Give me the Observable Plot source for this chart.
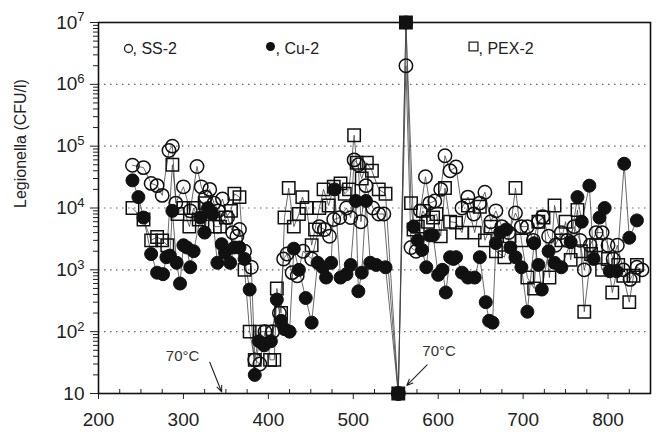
<!DOCTYPE html>
<html>
<head>
<meta charset="utf-8">
<script src="https://cdn.jsdelivr.net/npm/d3@7"></script>
<script src="https://cdn.jsdelivr.net/npm/@observablehq/plot@0.6"></script>
<style>
  html, body { margin: 0; padding: 0; background: white; }
</style>
</head>
<body>
<div id="chart"></div>
<script>
// ---- Data (days and Legionella CFU/l) ----
const ssDay = [240,253,262,269,275,283,287,291,300,308,
  316,321,326,331,336,341,346,352,358,363,
  366,372,380,384,390,396,405,413,418,422,
  428,434,441,451,460,466,472,477,484,492,
  497,501,506,509,515,523,530,536,553,562,
  568,574,579,585,590,596,603,608,614,621,
  628,635,642,649,655,662,668,675,683,691,
  698,705,712,718,723,730,738,745,752,760,
  767,772,779,786,793,800,806,811,818,826,
  834,840];
const ssVal = [49000,45000,25000,23000,16000,85000,100000,12000,22000,9000,
  47000,22000,15000,20000,12000,9000,14000,7000,4000,3500,
  4500,2000,1100,35,30,100,100,200,1500,1800,
  900,800,2000,1500,5000,4500,3500,6500,7000,10000,
  7000,60000,50000,6000,23000,10000,8000,8000,10,2000000,
  2300,2000,9000,32000,12000,13000,20000,70000,40000,46000,
  10000,15000,8000,12000,18000,6000,9000,5000,4000,8300,
  5000,5000,3000,6000,7200,3500,2500,4000,3000,5000,
  3000,1000,2500,4000,4000,2500,1500,2500,1000,700,
  1100,1000];

const cuDay = [240,247,253,262,269,276,280,284,287,292,
  296,300,304,308,312,320,325,329,334,340,
  345,349,355,360,366,372,378,384,389,395,
  403,410,415,419,425,430,436,444,451,458,
  464,468,474,478,485,492,497,503,506,510,
  515,520,527,538,553,562,571,576,581,586,
  590,594,600,605,609,614,618,621,628,635,
  643,649,656,660,664,668,673,680,685,691,
  698,705,713,718,722,730,737,745,756,764,
  769,778,783,790,796,802,810,819,825,834];
const cuVal = [28000,15000,7000,1800,900,850,1600,1700,9000,1300,
  600,2500,2300,1100,2000,7000,4000,10000,8000,1300,
  2600,1900,1300,2300,2300,1500,480,20,70,60,
  70,330,150,110,100,2200,1000,350,140,1300,
  1100,750,1300,20000,750,850,1200,13000,450,900,
  13000,1300,1200,1100,10,10000000,5000,3000,2100,1100,
  3600,3600,830,1000,430,1600,1500,1600,900,750,
  750,1600,300,150,140,2700,4000,4500,2300,1600,
  1100,210,2700,1200,480,2000,1300,1100,2800,15000,
  6000,23000,1500,7000,10000,950,950,52000,3300,6300];

const pexDay = [240,253,262,269,275,281,287,293,300,307,
  312,318,325,331,337,343,350,356,360,366,
  372,378,384,390,398,402,407,410,415,419,
  424,430,436,440,445,451,455,460,465,471,
  477,485,490,495,501,504,510,516,522,530,
  538,553,562,568,571,576,582,588,594,598,
  603,608,614,621,628,635,643,649,655,662,
  668,678,684,691,698,705,713,718,724,731,
  737,745,750,756,764,768,772,780,786,793,
  800,805,812,818,825,830,834];
const pexVal = [10000,6500,3000,3400,3000,2500,50000,8000,10000,5000,
  10000,6500,12000,8000,5000,5000,7000,9000,17000,15000,
  1000,100,35,100,100,35,35,500,200,7000,
  21000,5000,8000,15000,10000,2500,4500,10000,20000,11000,
  22000,25000,17000,20000,150000,54000,30000,54000,40000,20000,
  17000,10,10000000,12000,4500,5000,9000,6000,7000,8000,
  3500,21000,6000,5800,4000,11000,4000,10500,3000,5000,
  2000,1600,3500,21000,3000,750,500,6000,7000,750,
  11000,3000,6000,1450,9300,2000,210,1800,2500,1000,
  1500,430,1200,800,300,800,1200];

// axis ticks
const xMajor = [200,300,400,500,600,700,800];
const xMinor = [225,250,275,325,350,375,425,450,475,525,550,575,625,650,675,725,750,775,825];
const yMajor = [10,100,1000,10000,100000,1000000,10000000];
const yGrid = [100,1000,10000,100000,1000000];
const yMinor = [];
for (const p of yMajor.slice(0, -1)) for (let m = 2; m <= 9; m++) yMinor.push(p * m);

// annotations "70°C"
const annoText = ["70°C", "70°C"];
const annoTextX = [299, 601];
const annoTextY = [40, 48];
const arrowX1 = [331, 587];
const arrowY1 = [32, 29];
const arrowX2 = [345, 563];
const arrowY2 = [10.6, 13.5];

const yLabel = "Legionella (CFU/l)";

const toRows = (days, vals) => days.map((d, i) => ({day: d, v: vals[i]}));
const ss = toRows(ssDay, ssVal);
const cu = toRows(cuDay, cuVal);
const pex = toRows(pexDay, pexVal);
const anno = annoText.map((t, i) => ({t, x: annoTextX[i], y: annoTextY[i], x1: arrowX1[i], y1: arrowY1[i], x2: arrowX2[i], y2: arrowY2[i]}));

const lineStyle = {x: "day", y: "v", stroke: "#444", strokeWidth: 0.8};

const chart = Plot.plot({
  width: 657,
  height: 432,
  marginLeft: 98,
  marginRight: 7,
  marginTop: 22,
  marginBottom: 39,
  style: {fontFamily: "'Liberation Sans', Arial, sans-serif", fontSize: "19px", background: "white", color: "#222"},
  x: {domain: [200, 850]},
  y: {type: "log", domain: [10, 1e7]},
  marks: [
    Plot.gridY(yGrid, {stroke: "#666", strokeOpacity: 1, strokeWidth: 1.1, strokeDasharray: "1.5,4.5"}),
    // axes
    Plot.axisX(xMajor, {tickSize: 6, tickPadding: 13, label: null, fontSize: 19}),
    Plot.axisX(xMinor, {tickSize: -4, tickFormat: () => "", label: null}),
    Plot.axisY(yMajor, {tickSize: 8, tickPadding: 6, label: null, fontSize: 19, tickFormat: d => "10^" + Math.round(Math.log10(d))}),
    Plot.axisY(yMinor, {tickSize: 5, tickFormat: () => "", label: null}),
    Plot.text([yLabel], {frameAnchor: "left", dx: -78, rotate: -90, fontSize: 16, text: d => d, fill: "#222"}),
    // series lines
    Plot.line(ss, lineStyle),
    Plot.line(cu, lineStyle),
    Plot.line(pex, lineStyle),
    // markers
    Plot.dot(cu, {x: "day", y: "v", r: 6.5, fill: "#111", stroke: "#111", strokeWidth: 1}),
    Plot.dot(ss, {x: "day", y: "v", r: 6.7, fill: "none", stroke: "#111", strokeWidth: 1.5}),
    Plot.dot(pex, {x: "day", y: "v", r: 7, symbol: "square", stroke: "#111", strokeWidth: 1.5,
      fill: d => (d.v <= 10 || d.v >= 1e7) ? "#111" : "none"}),
    // legend
    Plot.dot([0], {frameAnchor: "top-left", dx: 30, dy: 26, r: 4, fill: "none", stroke: "#222", strokeWidth: 1.3}),
    Plot.text([", SS-2"], {frameAnchor: "top-left", dx: 34, dy: 26, textAnchor: "start", lineAnchor: "middle", fontSize: 16, text: d => d, fill: "#222"}),
    Plot.dot([0], {frameAnchor: "top-left", dx: 172, dy: 24, r: 4.5, fill: "#111"}),
    Plot.text([", Cu-2"], {frameAnchor: "top-left", dx: 177, dy: 26, textAnchor: "start", lineAnchor: "middle", fontSize: 16, text: d => d, fill: "#222"}),
    Plot.dot([0], {frameAnchor: "top-left", dx: 375, dy: 24, r: 5, symbol: "square", fill: "none", stroke: "#222", strokeWidth: 1.3}),
    Plot.text([", PEX-2"], {frameAnchor: "top-left", dx: 380, dy: 26, textAnchor: "start", lineAnchor: "middle", fontSize: 16, text: d => d, fill: "#222"}),
    // annotations
    Plot.arrow(anno, {x1: "x1", y1: "y1", x2: "x2", y2: "y2", stroke: "#222", strokeWidth: 1.1, headLength: 9, headAngle: 45}),
    Plot.text(anno, {x: "x", y: "y", text: "t", fontSize: 15, fill: "#333"}),
    Plot.frame({stroke: "#111", strokeWidth: 1.6})
  ]
});

// superscript exponents on y tick labels (major ticks only)
d3.select(chart).selectAll('g[aria-label="y-axis tick label"] text').each(function() {
  const s = this.textContent;
  if (!s || s.indexOf("^") < 0) return;
  const k = +s.split("^")[1];
  const t = d3.select(this);
  t.text("");
  t.append("tspan").text("10");
  if (k > 1) t.append("tspan").attr("dy", "-0.55em").attr("font-size", "13px").text(String(k));
});

document.getElementById("chart").appendChild(chart);
</script>
</body>
</html>
